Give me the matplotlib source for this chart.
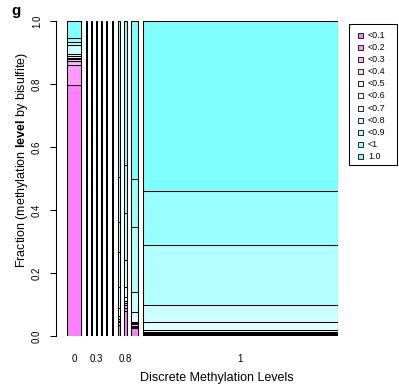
import matplotlib
matplotlib.use("Agg")
import matplotlib.pyplot as plt
from matplotlib.patches import Rectangle
import numpy as np

plt.rcParams['font.family'] = ['Liberation Sans', 'DejaVu Sans']
plt.rcParams['mathtext.fontset'] = 'custom'
plt.rcParams['mathtext.rm'] = 'Liberation Sans'
plt.rcParams['mathtext.bf'] = 'Liberation Sans:bold'

# ---------------- data ----------------
categories = ["0", "0.1", "0.2", "0.3", "0.4", "0.5", "0.6", "0.7", "0.8", "0.9", "1"]
shown_labels = ["0", "0.3", "0.8", "1"]
levels = ["<0.1", "<0.2", "<0.3", "<0.4", "<0.5", "<0.6", "<0.7", "<0.8", "<0.9", "<1", "1.0"]
level_colors = ["#FF80FF", "#FF99FF", "#FFB3FF", "#FFCCFF", "#FFE6FF", "#FFFFFF",
                "#E6FFFF", "#CCFFFF", "#B3FFFF", "#99FFFF", "#80FFFF"]

# relative share of each discrete level (bar widths)
bar_widths = [0.064, 0.0044, 0.002, 0.002, 0.002, 0.0044, 0.0066, 0.009, 0.011, 0.029, 0.866]

# fractions of bisulfite levels within each discrete level (bottom to top)
frac_0   = [0.797, 0.063, 0.013, 0.005, 0.005, 0.005, 0.006, 0.030, 0.010, 0.011, 0.055]
frac_0_1 = [0.585, 0.030, 0.015, 0.015, 0.015, 0.020, 0.030, 0.066, 0.044, 0.030, 0.150]
frac_0_2 = [0.450, 0.050, 0.040, 0.030, 0.030, 0.040, 0.050, 0.060, 0.070, 0.050, 0.130]
frac_0_3 = [0.400, 0.040, 0.040, 0.040, 0.040, 0.050, 0.060, 0.070, 0.080, 0.060, 0.120]
frac_0_4 = [0.350, 0.040, 0.030, 0.040, 0.040, 0.050, 0.070, 0.080, 0.090, 0.070, 0.140]
frac_0_5 = [0.236, 0.020, 0.020, 0.020, 0.020, 0.030, 0.060, 0.050, 0.061, 0.127, 0.356]
frac_0_6 = [0.020, 0.010, 0.010, 0.010, 0.020, 0.050, 0.050, 0.060, 0.140, 0.183, 0.447]
frac_0_7 = [0.035, 0.008, 0.005, 0.005, 0.010, 0.026, 0.068, 0.111, 0.095, 0.143, 0.494]
frac_0_8 = [0.078, 0.012, 0.008, 0.006, 0.008, 0.013, 0.030, 0.085, 0.150, 0.153, 0.457]
frac_0_9 = [0.025, 0.004, 0.004, 0.004, 0.004, 0.004, 0.032, 0.064, 0.206, 0.153, 0.500]
frac_1   = [0.003, 0.002, 0.002, 0.002, 0.003, 0.007, 0.024, 0.057, 0.190, 0.170, 0.540]

fractions = np.array([frac_0, frac_0_1, frac_0_2, frac_0_3, frac_0_4, frac_0_5,
                      frac_0_6, frac_0_7, frac_0_8, frac_0_9, frac_1])
fractions = fractions / fractions.sum(axis=1, keepdims=True)

# ---------------- figure ----------------
W, H = 399, 384
fig = plt.figure(figsize=(W / 100, H / 100), dpi=100)
ax = fig.add_axes([56 / W, 1 - 336 / H, (338 - 56) / W, 315 / H])

gap = 0.02
n = len(categories)
widths = np.array(bar_widths)
widths = widths / widths.sum()
lefts = np.concatenate([[0.0], np.cumsum(widths[:-1])]) + gap * np.arange(n)
bottoms = np.hstack([np.zeros((n, 1)), np.cumsum(fractions, axis=1)[:, :-1]])

for j, lev in enumerate(levels):
    ax.bar(lefts, fractions[:, j], width=widths, bottom=bottoms[:, j], align='edge',
           color=level_colors[j], edgecolor='black', linewidth=0.75)

total = 1 + gap * (n - 1)
px_per_unit = (338 - 67) / total
ax.set_xlim(-(67 - 56) / px_per_unit, total)
ax.set_ylim(0, 1)

for s in ['top', 'right', 'bottom']:
    ax.spines[s].set_visible(False)
ax.spines['left'].set_linewidth(0.75)

ax.set_yticks([0, 0.2, 0.4, 0.6, 0.8, 1.0])
ax.set_yticklabels(["0.0", "0.2", "0.4", "0.6", "0.8", "1.0"], rotation=90, va='center')
ax.tick_params(axis='y', length=4, width=0.75, pad=6, labelsize=7)

centers = lefts + widths / 2
idx = [categories.index(c) for c in shown_labels]
ax.set_xticks(centers[idx])
ax.set_xticklabels(shown_labels)
ax.tick_params(axis='x', length=0, pad=13, labelsize=7)

fig.text(22.5 / W, 1 - 160 / H, r"Fraction (methylation $\mathbf{level}$ by bisulfite)",
         rotation=90, ha='center', va='center', fontsize=9)
fig.text(217 / W, 1 - 378 / H, "Discrete Methylation Levels", ha='center', va='center', fontsize=9)
fig.text(11 / W, 1 - 4 / H, "g", ha='left', va='top', fontsize=11, fontweight='bold')

# ---------------- legend ----------------
lax = fig.add_axes([0, 0, 1, 1], zorder=5)
lax.set_xlim(0, W)
lax.set_ylim(H, 0)
lax.axis('off')
lax.add_patch(Rectangle((348.5, 23.5), 48.5, 141.5, facecolor='white', edgecolor='black', linewidth=0.75))
for k, (lev, col) in enumerate(zip(levels, level_colors)):
    yc = 35 + k * 12.17
    lax.add_patch(Rectangle((358, yc - 2.5), 5, 5, facecolor=col, edgecolor='black', linewidth=0.6))
    lax.text(368, yc, lev, ha='left', va='center', fontsize=6.4)

fig.savefig("out.png", dpi=100)
